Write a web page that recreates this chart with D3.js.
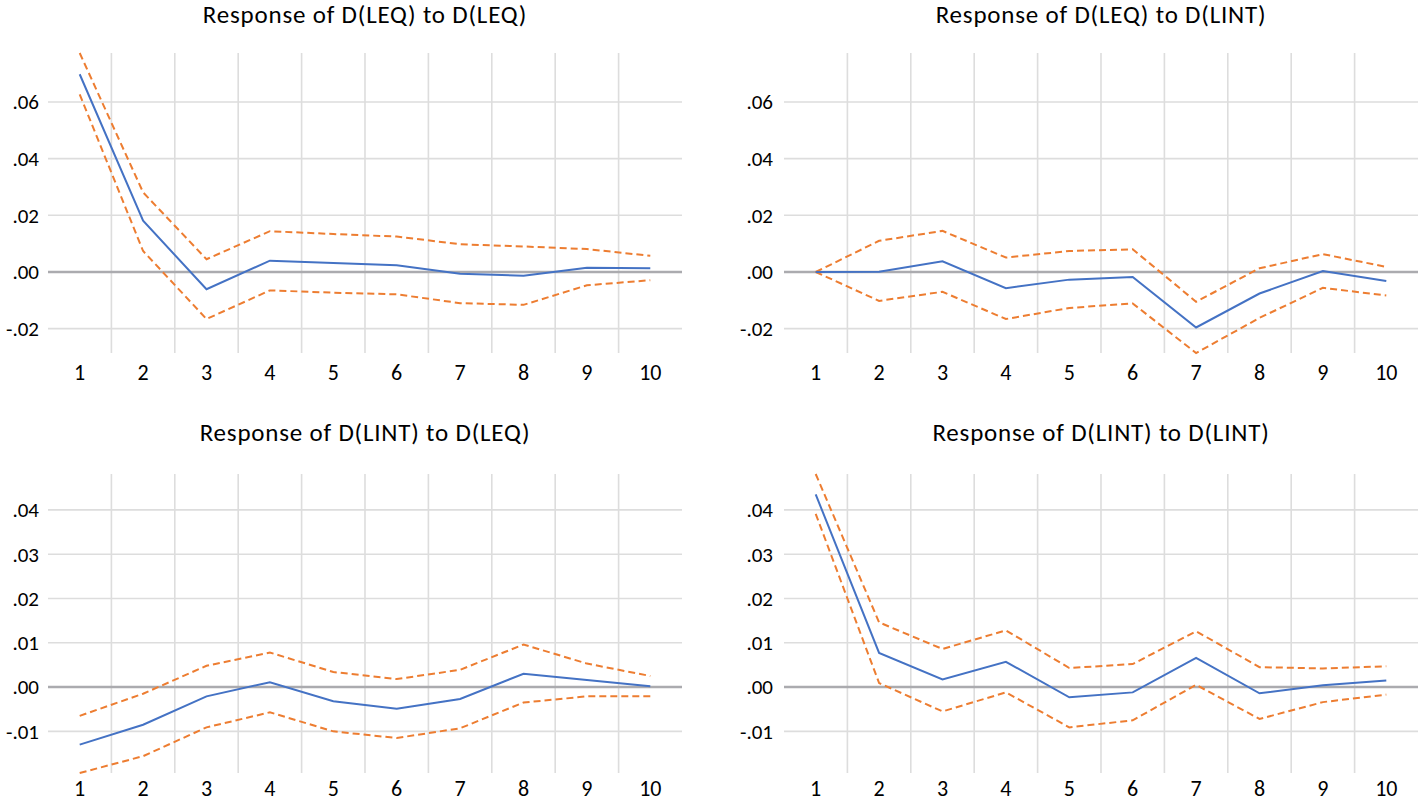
<!DOCTYPE html>
<html>
<head>
<meta charset="utf-8">
<script src="https://cdn.jsdelivr.net/npm/d3@7"></script>
<style>
  html, body { margin: 0; padding: 0; background: #ffffff; }
  svg { display: block; }
  text { font-family: Carlito, Calibri, Lato, "Noto Sans", sans-serif; fill: #000; }
</style>
</head>
<body>
<svg id="chart" width="1418" height="802"></svg>
<script>
// ---------------- data ----------------
const periods = [1, 2, 3, 4, 5, 6, 7, 8, 9, 10];

const titles = [
  "Response of D(LEQ) to D(LEQ)",
  "Response of D(LEQ) to D(LINT)",
  "Response of D(LINT) to D(LEQ)",
  "Response of D(LINT) to D(LINT)"
];

// Response of D(LEQ) to D(LEQ)
const leqLeqResp  = [0.0698, 0.0181, -0.0061, 0.0040, 0.0032, 0.0024, -0.0006, -0.0013, 0.0015, 0.0013];
const leqLeqUpper = [0.0773, 0.0281, 0.0045, 0.0144, 0.0134, 0.0125, 0.0098, 0.0090, 0.0081, 0.0057];
const leqLeqLower = [0.0627, 0.0074, -0.0166, -0.0065, -0.0073, -0.0079, -0.0110, -0.0116, -0.0047, -0.0029];

// Response of D(LEQ) to D(LINT)
const leqLintResp  = [0.0000, 0.0001, 0.0038, -0.0057, -0.0027, -0.0018, -0.0196, -0.0076, 0.0003, -0.0032];
const leqLintUpper = [0.0000, 0.0110, 0.0145, 0.0051, 0.0074, 0.0080, -0.0105, 0.0013, 0.0063, 0.0018];
const leqLintLower = [0.0000, -0.0102, -0.0070, -0.0166, -0.0127, -0.0111, -0.0286, -0.0162, -0.0056, -0.0083];

// Response of D(LINT) to D(LEQ)
const lintLeqResp  = [-0.0130, -0.0085, -0.0021, 0.0011, -0.0032, -0.0049, -0.0027, 0.0030, 0.0016, 0.0002];
const lintLeqUpper = [-0.0065, -0.0015, 0.0048, 0.0078, 0.0034, 0.0018, 0.0039, 0.0096, 0.0053, 0.0025];
const lintLeqLower = [-0.0194, -0.0156, -0.0091, -0.0057, -0.0100, -0.0115, -0.0093, -0.0035, -0.0021, -0.0021];

// Response of D(LINT) to D(LINT)
const lintLintResp  = [0.0435, 0.0077, 0.0017, 0.0057, -0.0023, -0.0012, 0.0066, -0.0014, 0.0004, 0.0015];
const lintLintUpper = [0.0481, 0.0146, 0.0086, 0.0128, 0.0043, 0.0052, 0.0126, 0.0045, 0.0042, 0.0047];
const lintLintLower = [0.0391, 0.0009, -0.0055, -0.0012, -0.0091, -0.0075, 0.0005, -0.0072, -0.0034, -0.0017];

// tick values for each row
const topRowTicks    = [-0.02, 0.00, 0.02, 0.04, 0.06];
const bottomRowTicks = [-0.01, 0.00, 0.01, 0.02, 0.03, 0.04];

// ---------------- layout ----------------
const svg = d3.select("#chart");
const COLORS = { resp: "#4472C4", band: "#ED7D31", grid: "#DDDDDD", zero: "#ABABAF" };

const rows = [
  { top: 53, bottom: 353, titleY: 23, tickY: 380, ticks: topRowTicks,
    series: [[leqLeqResp, leqLeqUpper, leqLeqLower], [leqLintResp, leqLintUpper, leqLintLower]] },
  { top: 474, bottom: 773, titleY: 441, tickY: 796, ticks: bottomRowTicks,
    series: [[lintLeqResp, lintLeqUpper, lintLeqLower], [lintLintResp, lintLintUpper, lintLintLower]] }
];
const cols = [ { left: 48, right: 682, labGap: 9 }, { left: 784, right: 1418, labGap: 11 } ];

// ".06" / "-.02" style labels with an ASCII hyphen
const fmt = v => {
  const a = Math.abs(v) < 1e-9 ? 0 : v;
  const s = d3.format(".2f")(Math.abs(a)).replace(/^0\./, ".");
  return (a < 0 ? "-" : "") + s;
};

rows.forEach((row, ri) => {
  const all = row.series.flat(2);
  const y = d3.scaleLinear().domain(d3.extent(all)).range([row.bottom, row.top]);

  cols.forEach((col, ci) => {
    const [resp, upper, lower] = row.series[ci];
    const x = d3.scaleBand().domain(periods).range([col.left, col.right]).paddingInner(0).paddingOuter(0);
    const cx = d => x(d) + x.bandwidth() / 2;
    const g = svg.append("g");

    // vertical gridlines at inner band boundaries
    g.selectAll("line.vgrid").data(periods.slice(1)).join("line")
      .attr("class", "vgrid")
      .attr("x1", d => x(d)).attr("x2", d => x(d))
      .attr("y1", row.top).attr("y2", row.bottom)
      .attr("stroke", COLORS.grid).attr("stroke-width", 1.6);

    // horizontal gridlines
    g.selectAll("line.hgrid").data(row.ticks.filter(t => t !== 0)).join("line")
      .attr("class", "hgrid")
      .attr("x1", col.left).attr("x2", col.right)
      .attr("y1", d => y(d)).attr("y2", d => y(d))
      .attr("stroke", COLORS.grid).attr("stroke-width", 1.6);

    // zero line
    g.append("line")
      .attr("x1", col.left).attr("x2", col.right)
      .attr("y1", y(0)).attr("y2", y(0))
      .attr("stroke", COLORS.zero).attr("stroke-width", 2.5);

    // y tick labels
    g.selectAll("text.ylab").data(row.ticks).join("text")
      .attr("class", "ylab")
      .attr("x", col.left - col.labGap).attr("y", d => y(d))
      .attr("dy", "0.35em")
      .attr("text-anchor", "end")
      .attr("font-size", 21)
      .attr("font-weight", 500)
      .text(fmt);

    // x tick labels
    g.selectAll("text.xlab").data(periods).join("text")
      .attr("class", "xlab")
      .attr("x", cx).attr("y", row.tickY)
      .attr("text-anchor", "middle")
      .attr("font-size", 22)
      .attr("font-weight", 500)
      .text(d => d);

    // lines
    const line = d3.line().x((d, i) => cx(periods[i])).y(d => y(d));
    g.append("path").datum(upper).attr("d", line)
      .attr("fill", "none").attr("stroke", COLORS.band).attr("stroke-width", 2)
      .attr("stroke-dasharray", "7,4");
    g.append("path").datum(lower).attr("d", line)
      .attr("fill", "none").attr("stroke", COLORS.band).attr("stroke-width", 2)
      .attr("stroke-dasharray", "7,4");
    g.append("path").datum(resp).attr("d", line)
      .attr("fill", "none").attr("stroke", COLORS.resp).attr("stroke-width", 2);

    // title
    g.append("text")
      .attr("x", (col.left + col.right) / 2).attr("y", row.titleY)
      .attr("text-anchor", "middle")
      .attr("font-size", 25)
      .attr("font-weight", 500)
      .attr("letter-spacing", 0.8)
      .text(titles[ri * 2 + ci]);
  });
});
</script>
</body>
</html>
